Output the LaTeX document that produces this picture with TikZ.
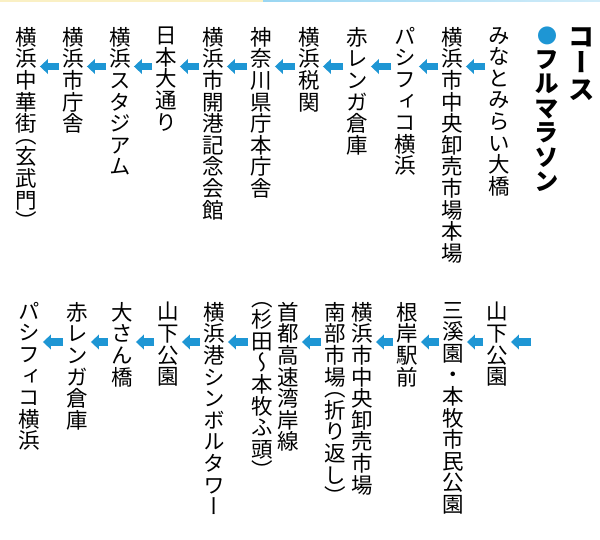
\documentclass[tikz,border=0pt]{standalone}
\usepackage{fontspec}
\usetikzlibrary{arrows.meta,calc}
\newfontfamily\jp[RawFeature=+vert]{Noto Sans CJK JP}
\definecolor{routeblue}{HTML}{1E96D4}
\definecolor{stripyellow}{HTML}{FAF0C4}
\definecolor{stripblue}{HTML}{9AD6F2}
% one character per line (vertical writing)
\def\tatestop{\tatestop}
\def\tate#1{\tatefirst#1\tatestop}
\def\tatefirst#1{#1\tatenext}
\def\tatenext#1{\ifx#1\tatestop\expandafter\tateend\else\expandafter\tatemore\fi#1}
\def\tatemore#1{\ifx#1（\expandafter\tateopen\else\expandafter\tateline\fi#1}
\def\tateopen#1{\\[-10pt]#1\tatenext}
\def\tateline#1{\\#1\tatenext}
\def\tateend#1{}
\begin{document}
\begin{tikzpicture}[x=1pt, y=-1pt,
    stop/.style={anchor=north, inner sep=0pt, align=center,
        font=\jp\fontsize{21.5}{21.6}\selectfont},
    flow/.style={draw=routeblue, line width=7.5pt,
        -{Triangle[width=14.5pt, length=8pt]}}]
    \useasboundingbox (0,0) rectangle (600,540);
    \fill[stripyellow] (0,0) rectangle (263,2);
    \shade[left color=stripblue, right color=stripblue!45] (263,0) rectangle (600,2);

    % Title
    \node[anchor=north, inner sep=0pt, align=center,
        font=\jp\bfseries\fontsize{26.5}{26.5}\selectfont] (title) at (582,27) {コ\\ー\\ス};
    \node[anchor=north, inner sep=0pt, align=center,
        font=\jp\bfseries\fontsize{24.5}{24.5}\selectfont] (course) at (547,27)
        {{\color{routeblue}\fontsize{20}{24.5}\selectfont ●}\\フ\\ル\\マ\\ラ\\ソ\\ン};

    \coordinate (lineA) at (0,66.5);
    \coordinate (lineB) at (0,342);

    % First row of stops
    \foreach \x/\lbl [count=\i] in {
        499/みなとみらい大橋,
        452/横浜市中央卸売市場本場,
        405/パシフィコ横浜,
        357/赤レンガ倉庫,
        309/横浜税関,
        261/神奈川県庁本庁舎,
        213/横浜市開港記念会館,
        166/日本大通り,
        120/横浜スタジアム,
        73/横浜市庁舎,
        26/横浜中華街（玄武門）
    } {
        \node[stop] (t\i) at (\x,27) {\expandafter\tate\expandafter{\lbl}};
    }

    % Second row of stops
    \foreach \x/\name/\lbl in {
        497/b1/山下公園,
        453/b2/三溪園・本牧市民公園,
        407/b3/根岸駅前,
        362/b4/横浜市中央卸売市場,
        335/b4a/南部市場（折り返し）,
        288/b5/首都高速湾岸線,
        262/b5a/（杉田～本牧ふ頭）,
        214/b6/横浜港シンボルタワー,
        168/b7/山下公園,
        122/b8/大さん橋,
        77/b9/赤レンガ倉庫,
        29/b10/パシフィコ横浜
    } {
        \node[stop] (\name) at (\x,302) {\expandafter\tate\expandafter{\lbl}};
    }

    % Arrows
    \foreach \a/\b in {t1/t2, t2/t3, t3/t4, t4/t5, t5/t6, t6/t7, t7/t8, t8/t9, t9/t10, t10/t11}
        \draw[flow] ($(\a.west |- lineA)+(-3,0)$) -- ($(\b.east |- lineA)+(3,0)$);
    \coordinate (start) at (531,342);
    \draw[flow] (start) -- ($(b1.east |- lineB)+(3,0)$);
    \foreach \a/\b in {b1/b2, b2/b3, b3/b4, b4a/b5, b5a/b6, b6/b7, b7/b8, b8/b9, b9/b10}
        \draw[flow] ($(\a.west |- lineB)+(-3,0)$) -- ($(\b.east |- lineB)+(3,0)$);
\end{tikzpicture}
\end{document}
